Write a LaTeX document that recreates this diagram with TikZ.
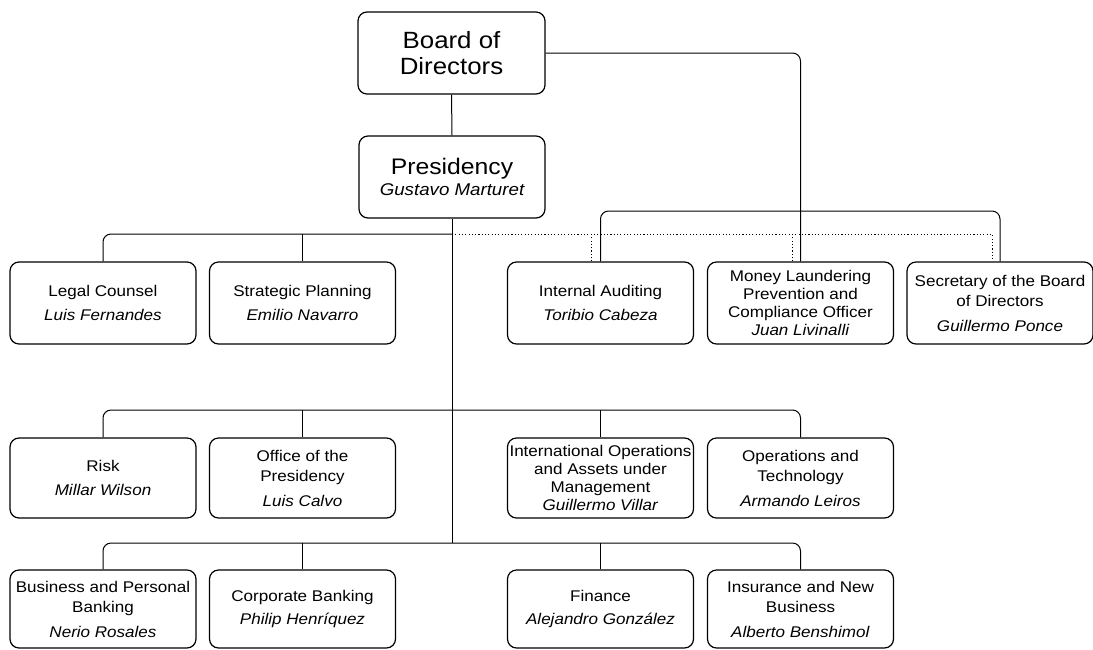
\documentclass[tikz,border=0pt]{standalone}
\usepackage{fontspec}
\setmainfont{Liberation Sans}[FakeStretch=1.1]
\begin{document}
\begin{tikzpicture}[x=1pt,y=-1pt]
\tikzset{
  box/.style={draw, line width=1.2pt, rounded corners=9pt, minimum width=186pt,
    minimum height=82pt, inner sep=0pt, align=center,
    font=\fontsize{15.5}{20.5}\selectfont},
  tightbox/.style={box, font=\fontsize{15.5}{18}\selectfont},
  conn/.style={line width=1pt, rounded corners=8pt},
  dotline/.style={line width=1pt, dash pattern=on 1.1pt off 2.2pt},
}
\useasboundingbox (0,0) rectangle (1093,649);
% top
\node[box, minimum width=187pt, font=\fontsize{23.5}{26}\selectfont] (board) at (451.5,53) {Board of\\Directors};
\node[box, minimum height=82pt] (pres) at (452,177) {{\fontsize{22.5}{26}\selectfont Presidency}\\[1pt]{\fontsize{17}{20}\selectfont\itshape Gustavo Marturet}};
% row 1
\node[box] (legal) at (103,303) {Legal Counsel\\[3pt]\textit{Luis Fernandes}};
\node[box] (strat) at (302.5,303) {Strategic Planning\\[3pt]\textit{Emilio Navarro}};
\node[box] (audit) at (600.5,303) {Internal Auditing\\[3pt]\textit{Toribio Cabeza}};
\node[tightbox] (money) at (800.5,303) {Money Laundering\\Prevention and\\Compliance Officer\\\textit{Juan Livinalli}};
\node[box] (sec) at (1000,303) {Secretary of the Board\\of Directors\\[4pt]\textit{Guillermo Ponce}};
% row 2
\node[box, minimum height=80pt] (risk) at (103,478) {Risk\\[3pt]\textit{Millar Wilson}};
\node[box, minimum height=80pt] (office) at (302.5,478) {Office of the\\Presidency\\[4pt]\textit{Luis Calvo}};
\node[tightbox, minimum height=80pt] (intl) at (600.5,478) {International Operations\\and Assets under\\Management\\\textit{Guillermo Villar}};
\node[box, minimum height=80pt] (optech) at (800.5,478) {Operations and\\Technology\\[4pt]\textit{Armando Leiros}};
% row 3
\node[box, minimum height=78pt] (bpb) at (103,609) {Business and Personal\\Banking\\[4pt]\textit{Nerio Rosales}};
\node[box, minimum height=78pt] (corp) at (302.5,609) {Corporate Banking\\[3pt]\textit{Philip Henríquez}};
\node[box, minimum height=78pt] (fin) at (600.5,609) {Finance\\[3pt]\textit{Alejandro González}};
\node[box, minimum height=78pt] (ins) at (800.5,609) {Insurance and New\\Business\\[4pt]\textit{Alberto Benshimol}};
% bus levels
\coordinate (y1) at (0,234);
\coordinate (y1b) at (0,211);
\coordinate (y2) at (0,410);
\coordinate (y3) at (0,543);
% connectors
\draw[conn] (board) -- (pres);
\draw[conn] (board.east) -| (money.north);
\draw[conn] (pres.south) -- (pres.south |- y3);
\draw[conn] (legal.north) |- (pres.south |- y1);
\draw[conn] (strat.north) -- (strat.north |- y1);
\draw[dotline] (pres.south |- y1) -| ([xshift=-8pt]sec.north);
\draw[dotline] ([xshift=-9pt]audit.north) -- ([xshift=-9pt]audit.north |- y1);
\draw[dotline] ([xshift=-8pt]money.north) -- ([xshift=-8pt]money.north |- y1);
\draw[conn] (audit.north) |- (sec.north |- y1b) -- (sec.north);
% row 2 bus
\draw[conn] (risk.north) |- (optech.north |- y2) -- (optech.north);
\draw[conn] (office.north) -- (office.north |- y2);
\draw[conn] (intl.north) -- (intl.north |- y2);
% row 3 bus
\draw[conn] (bpb.north) |- (ins.north |- y3) -- (ins.north);
\draw[conn] (corp.north) -- (corp.north |- y3);
\draw[conn] (fin.north) -- (fin.north |- y3);
\end{tikzpicture}
\end{document}
